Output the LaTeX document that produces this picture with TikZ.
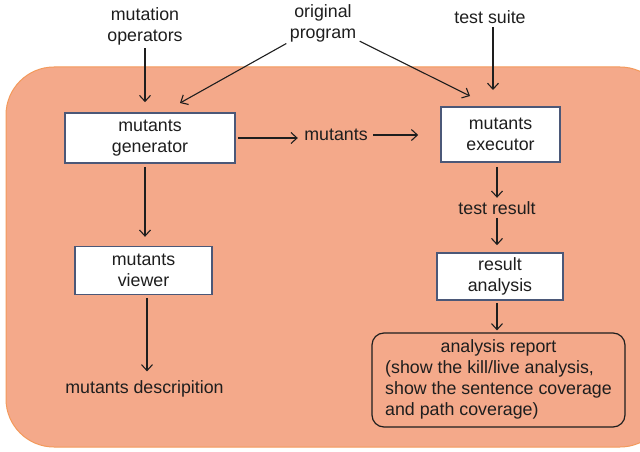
\documentclass[tikz,border=0pt]{standalone}
\usepackage{fontspec}
\setmainfont{Liberation Sans}
\usepackage{xcolor}
\usetikzlibrary{positioning, arrows.meta}

\definecolor{bgfill}{HTML}{F4A98A}
\definecolor{bgline}{HTML}{F39A5C}
\definecolor{boxline}{HTML}{4B5878}
\definecolor{ink}{HTML}{1E1E1E}

\tikzset{
  box/.style={draw=boxline, fill=white, line width=1.6pt, align=center, text=ink},
  txt/.style={align=center, text=ink},
  arr/.style={->, draw=ink, line width=1.1pt},
}

\begin{document}
\begin{tikzpicture}[x=1pt, y=1pt, >={Straight Barb[length=6pt,width=11pt]},
    font=\fontsize{17.8}{21}\selectfont]
        \useasboundingbox (0,0) rectangle (640,-452);
        % background panel
        \draw[fill=bgfill, draw=bgline, line width=1pt, rounded corners=48pt] (6,-67) rectangle (668,-447);

        % inputs
        \node[txt] (ops) at (145,-26) {mutation\\operators};
        \node[txt] (orig) at (323,-23) {original\\program};
        \node[txt] (suite) at (490,-17) {test suite};

        % left column
        \node[box, minimum width=170, minimum height=50] (gen) at (150,-138) {mutants\\generator};
        \node[box, minimum width=137, minimum height=48] (view) [below=82 of gen, xshift=-6.5] {mutants\\viewer};
        \node[txt] (desc) [below=82 of view, xshift=1] {mutants descripition};

        % right column
        \node[txt] (mut) at (336,-135) {mutants};
        \node[box, minimum width=119, minimum height=55] (exec) at (500.5,-134.5) {mutants\\executor};
        \node[txt] (res) [below=35 of exec, xshift=-3.5] {test result};
        \node[box, minimum width=126, minimum height=47] (ana) at (500,-276.5) {result\\analysis};
        \node[txt, draw=ink, line width=1.2pt, rounded corners=12pt, minimum width=253, minimum height=94] (rep) at (498.5,-380)
            {\begin{tabular}{@{}l@{}}\multicolumn{1}{@{}c@{}}{analysis report}\\(show the kill/live analysis,\\show the sentence coverage\\and path coverage)\end{tabular}};

        \coordinate (ginto) at (180,-103);
        \coordinate (einto) at (470,-96);
        \coordinate (sinto) at (493,-90);

        \draw[arr] (ops) -- (ops |- gen.north) [shorten >=10pt];
        \draw[arr] (orig) -- (ginto);
        \draw[arr] (orig) -- (einto);
        \draw[arr] (suite.south -| sinto) -- (sinto);

        \draw[arr, shorten <=2pt, shorten >=3pt] (gen.east) -- (gen.east -| mut.west);
        \draw[arr, shorten <=2pt, shorten >=22pt] (mut.east) -- (mut.east -| exec.west);

        \draw[arr, shorten <=3pt, shorten >=9pt] (gen.south -| 145,0) -- (view.north -| 145,0);
        \draw[arr, shorten <=3pt, shorten >=6pt] (view.south -| 147,0) -- (desc.north -| 147,0);

        \draw[arr, shorten <=4pt] (exec.south -| res) -- (res.north);
        \draw[arr, shorten >=7pt] (res.south) -- (ana.north -| res);
        \draw[arr, shorten <=2pt, shorten >=2pt] (ana.south -| res) -- (rep.north -| res);
\end{tikzpicture}
\end{document}
